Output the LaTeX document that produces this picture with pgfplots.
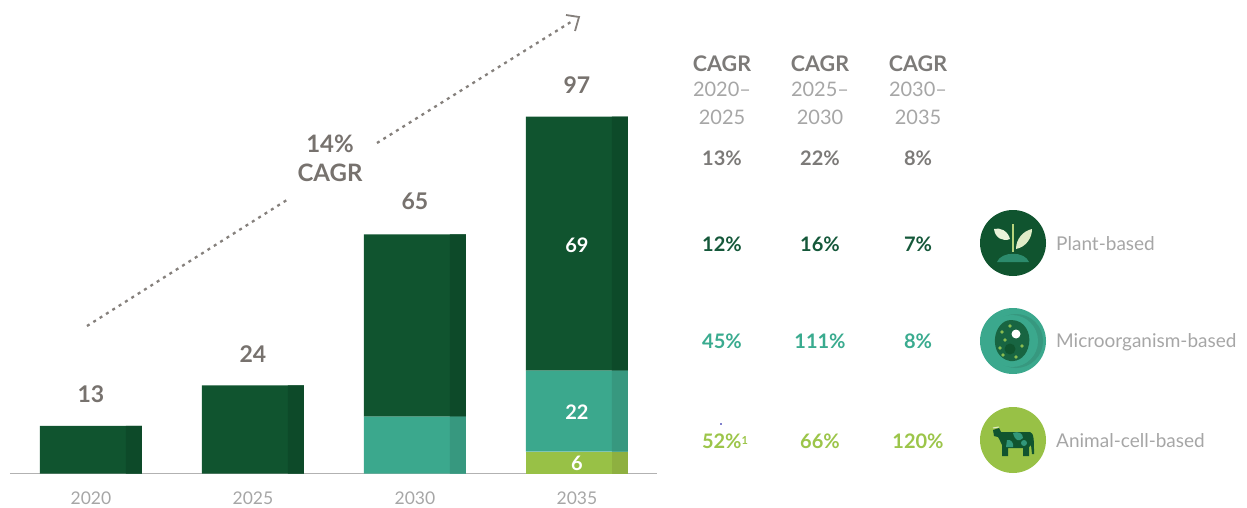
\documentclass[border=0pt]{standalone}
\usepackage{pgfplots}
\pgfplotsset{compat=1.18}
\usepackage{pgfplotstable}
\usepackage{fontspec}
\setmainfont{Lato}
\usetikzlibrary{arrows.meta}
\definecolor{dg}{HTML}{10542F}
\definecolor{dgs}{HTML}{0D4A29}
\definecolor{tl}{HTML}{3BA88D}
\definecolor{tls}{HTML}{37987F}
\definecolor{lg}{HTML}{98C146}
\definecolor{lgs}{HTML}{8EB040}
\definecolor{tot}{HTML}{77726E}
\definecolor{yr}{HTML}{A6A6A6}
\definecolor{hd}{HTML}{7C7A78}
\definecolor{tdg}{HTML}{15583A}
\definecolor{ttl}{HTML}{3AAB8F}
\definecolor{tlg}{HTML}{9CC54A}
\newcommand{\fs}[1]{\fontsize{#1}{#1}\selectfont}
\pgfplotstableread{
x animal micro plant
0 0 0 13
1 0 0 24
2 0 15.5 49.5
3 6 22 69
}\data
\pgfplotsset{base/.style={
  at={(10pt,-473.6pt)}, anchor=south west, scale only axis,
  width=647pt, height=473pt,
  xmin=-0.5, xmax=3.494, ymin=0, ymax=128.53,
  ybar stacked, clip=false,
  axis y line=none, axis x line=bottom,
  axis line style={-, draw=black!30, line width=1.4pt},
  xtick={0,1,2,3}, xticklabels={2020,2025,2030,2035},
  major tick length=0pt,
  xticklabel style={font=\fs{17.5}, text=yr, yshift=-14.5pt},
}}
\begin{document}
\begin{tikzpicture}[x=1pt,y=-1pt]
\path[use as bounding box] (0,0) rectangle (1247,508);
\begin{axis}[base, bar width=102pt]
\addplot[fill=lg, draw=none] table[x=x,y=animal] {\data};
\addplot[fill=tl, draw=none] table[x=x,y=micro] {\data};
\addplot[fill=dg, draw=none] table[x=x,y=plant] {\data};
\end{axis}
\begin{axis}[base, hide axis, bar width=16pt, bar shift=43pt]
\addplot[fill=lgs, draw=none] table[x=x,y=animal] {\data};
\addplot[fill=tls, draw=none] table[x=x,y=micro] {\data};
\addplot[fill=dgs, draw=none] table[x=x,y=plant] {\data};
\node[font=\bfseries\fs{23}, text=tot] at (axis cs:0,13) [yshift=31.5pt] {13};
\node[font=\bfseries\fs{23}, text=tot] at (axis cs:1,24) [yshift=31.5pt] {24};
\node[font=\bfseries\fs{23}, text=tot] at (axis cs:2,65) [yshift=33pt] {65};
\node[font=\bfseries\fs{23}, text=tot] at (axis cs:3,97) [yshift=32pt] {97};
\node[font=\bfseries\fs{20}, text=white] at (axis cs:3,62.5) [yshift=-1.2pt] {69};
\node[font=\bfseries\fs{20}, text=white] at (axis cs:3,17) [yshift=-1.2pt] {22};
\node[font=\bfseries\fs{20}, text=white] at (axis cs:3,3) [yshift=-1.2pt] {6};
\end{axis}
% growth arrow
\draw[tot!90, line width=2.3pt, dash pattern=on 3pt off 4.5pt] (87,326) -- (290,198);
\draw[tot!90, line width=2.3pt, dash pattern=on 3pt off 4.5pt] (377,143) -- (574,20);
\draw[tot!90, line width=1.8pt] (566,15) -- (579,17) -- (575,31);
\node[font=\bfseries\fs{24}, text=tot, align=center, inner sep=0] at (330,144) {14\%};
\node[font=\bfseries\fs{24}, text=tot, align=center, inner sep=0] at (330,173) {CAGR};
% table
\foreach \x/\a/\b [count=\i] in {722/2020/2025,820/2025/2030,918/2030/2035}{
  \node[font=\bfseries\fs{21.5}, text=hd, inner sep=0] at (\x,63.5) {CAGR};
  \node[font=\fs{20}, text=yr, inner sep=0] at (\x,89) {\a--};
  \node[font=\fs{20}, text=yr, inner sep=0] at (\x,117.5) {\b};
}
\foreach \x/\t in {722/13,820/22,918/8}
  \node[font=\bfseries\fs{20}, text=hd, inner sep=0] at (\x,158.5) {\t\%};
\foreach \x/\t in {722/12,820/16,918/7}
  \node[font=\bfseries\fs{20}, text=tdg, inner sep=0] at (\x,244.5) {\t\%};
\foreach \x/\t in {722/45,820/111,918/8}
  \node[font=\bfseries\fs{20}, text=ttl, inner sep=0] at (\x,341.5) {\t\%};
\node[font=\bfseries\fs{20}, text=tlg, inner sep=0] at (725,441) {52\%\raisebox{4pt}{\fs{11}1}};
\foreach \x/\t in {820/66,918/120}
  \node[font=\bfseries\fs{20}, text=tlg, inner sep=0] at (\x,441) {\t\%};
% legend text
\foreach \y/\t in {244/Plant-based,342/Microorganism-based,441/Animal-cell-based}
  \node[font=\fs{19}, text=yr, anchor=west, inner sep=0] at (1056,\y) {\t};
% plant icon
\begin{scope}[shift={(1013,243)}]
\fill[dg] (0,0) circle[radius=33];
\fill[tl!65!dg] (-16,19) .. controls (-12,8) and (12,8) .. (16,19) -- cycle;
\draw[lg!70!white, line width=2pt] (0,-19) -- (0,9);
\fill[white!80!lg] (-19,-14) .. controls (-13,-16) and (-5,-12) .. (-3,-4) .. controls (-10,-1) and (-18,-5) .. (-19,-14) -- cycle;
\fill[white!70!lg] (19,-14) .. controls (19,-5) and (13,4) .. (3,6) .. controls (3,-4) and (10,-12) .. (19,-14) -- cycle;
\end{scope}
% microorganism icon
\begin{scope}[shift={(1013,341)}]
\fill[tl] (0,0) circle[radius=33];
\fill[tls] (3,0) circle[radius=27];
\fill[tl] (-1,0) circle[radius=26];
\fill[dg!80!tl] (-2,-21) .. controls (12,-21) and (18,-8) .. (16,3) .. controls (14,15) and (6,21) .. (-3,20) .. controls (-14,18) and (-19,8) .. (-18,-3) .. controls (-17,-12) and (-11,-21) .. (-2,-21) -- cycle;
\fill[white] (3,-7) circle[radius=4.5];
\fill[dg] (-3,8) circle[radius=5.5];
\foreach \p in {(-11,-9),(-3,-15),(9,5),(-13,7),(3,16),(-8,-1),(-10,14)}
  \fill[lg!85!tl] \p circle[radius=1.9];
\end{scope}
% cow icon
\begin{scope}[shift={(1013,440)}]
\fill[lg] (0,0) circle[radius=33];
\fill[dg] (-12,-8) -- (17,-8) .. controls (21,-7) and (21,0) .. (21,14) -- (19,14) -- (18,5) -- (16,7) -- (16,16) -- (10,16) -- (10,8) -- (-5,8) -- (-5,16) -- (-11,16) -- (-11,5) .. controls (-13,1) and (-14,-2) .. (-15,-3) -- (-19,-4) -- (-20,-10) -- (-14,-12) -- cycle;
\fill[tl!80!dg] (0,-7) .. controls (5,-9) and (10,-7) .. (10,-2) .. controls (6,2) and (2,1) .. (0,-7) -- cycle;
\fill[tl!80!dg] (-6,0) .. controls (-2,-1) and (1,3) .. (0,7) -- (-7,7) -- cycle;
\fill[tl!80!dg] (11,3) circle[radius=3];
\draw[white!70!lg, line width=1pt] (-20,-12) -- (-14,-13);
\end{scope}
\fill[blue!60!black] (721,424) circle[radius=0.8];
\end{tikzpicture}
\end{document}
